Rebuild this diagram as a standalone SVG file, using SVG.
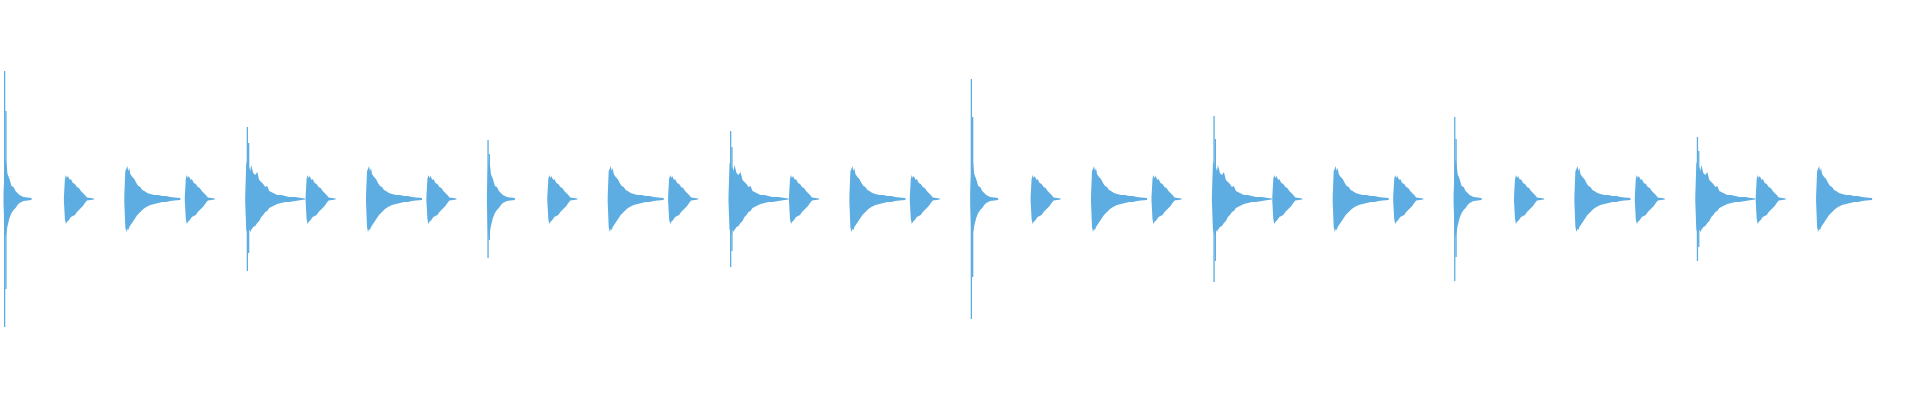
<svg xmlns="http://www.w3.org/2000/svg" width="1920" height="400" viewBox="0 0 1920 400">
<style>.w{fill:#5DADE2}</style>
<defs>
<polygon id="T" class="w" points="0,-2 1,-20 2,-24 3,-21 4,-23 6,-19 7,-20 9,-16 11,-15 13,-12 15,-11 17,-8 19,-6 21,-4 23,-1.5 30,-0.5 30,0.5 23,1.5 21,4 19,7 17,9 15,11 13,13 11,16 9,17 7,18 5,21 3,23 2,25 1,20 0,2"/>
<polygon id="L" class="w" points="0,-3 1,-28 2,-30 3,-33 4,-28 5,-31 6,-25 8,-22 10,-20 12,-16 14,-13 16,-12 18,-9 20,-8 23,-6 26,-5 30,-4 34,-4 38,-3 42,-3 46,-2 50,-1.5 56,-1 56,1 50,1.5 46,2 42,3 38,3 34,4 30,5 26,6 22,8 19,10 16,13 13,16 11,19 9,22 7,25 5,28 4,31 3,30 2,33 1,28 0,3"/>
<polygon id="H" class="w" points="0,-3 1,-35 2,-38 3,-30 4,-32 5,-28 6,-34 8,-26 10,-24 12,-27 14,-19 16,-17 18,-15 20,-12 22,-13 24,-8 28,-6 32,-4 36,-4 40,-3 44,-2 50,-2 56,-1 60,-0.5 60,0.5 56,1 50,2 44,3 40,3 36,4 32,5 28,7 24,9 22,12 20,13 18,16 16,18 14,22 12,24 10,27 8,28 6,31 5,33 4,30 3,36 2,34 1,30 0,3"/>
<polygon id="S" class="w" points="0,-5 1,-30 2,-40 3,-35 4,-25 6,-20 8,-13 10,-12 12,-8 14,-6 16,-4 20,-2 28,-1 28,1 20,2 16,4 14,6 12,9 10,11 8,14 6,19 4,27 3,33 2,38 1,32 0,5"/>
</defs>
<g transform="translate(0,199)">
<use href="#S" x="3.5"/><rect class="w" x="4" y="-128" width="1.3" height="256"/><rect class="w" x="5.3" y="-88" width="1.3" height="178"/>
<use href="#T" x="63.9"/><use href="#L" x="124.3"/><use href="#T" x="184.8"/>
<use href="#H" x="245.2"/><rect class="w" x="246.7" y="-72" width="1.3" height="144"/><rect class="w" x="248" y="-56" width="1.3" height="110"/>
<use href="#T" x="305.6"/><use href="#L" x="366"/><use href="#T" x="426.4"/>
<use href="#S" x="486.9"/><rect class="w" x="487.4" y="-59" width="1.3" height="118"/><rect class="w" x="488.7" y="-45" width="1.3" height="86"/>
<use href="#T" x="547.3"/><use href="#L" x="607.7"/><use href="#T" x="668.1"/>
<use href="#H" x="728.5"/><rect class="w" x="730" y="-68" width="1.3" height="136"/><rect class="w" x="731.3" y="-52" width="1.3" height="104"/>
<use href="#T" x="789"/><use href="#L" x="849.4"/><use href="#T" x="909.8"/>
<use href="#S" x="970.2"/><rect class="w" x="970.7" y="-120" width="1.3" height="240"/><rect class="w" x="972" y="-82" width="1.3" height="160"/>
<use href="#T" x="1030.6"/><use href="#L" x="1091"/><use href="#T" x="1151.5"/>
<use href="#H" x="1211.9"/><rect class="w" x="1213.4" y="-83" width="1.3" height="166"/><rect class="w" x="1214.7" y="-60" width="1.3" height="122"/>
<use href="#T" x="1272.3"/><use href="#L" x="1332.7"/><use href="#T" x="1393.2"/>
<use href="#S" x="1453.6"/><rect class="w" x="1454.1" y="-82" width="1.3" height="164"/><rect class="w" x="1455.4" y="-60" width="1.3" height="118"/>
<use href="#T" x="1514"/><use href="#L" x="1574.4"/><use href="#T" x="1634.8"/>
<use href="#H" x="1695.3"/><rect class="w" x="1696.8" y="-62" width="1.3" height="124"/><rect class="w" x="1698.1" y="-48" width="1.3" height="96"/>
<use href="#T" x="1755.7"/><use href="#L" x="1816.1"/>
</g>
</svg>
